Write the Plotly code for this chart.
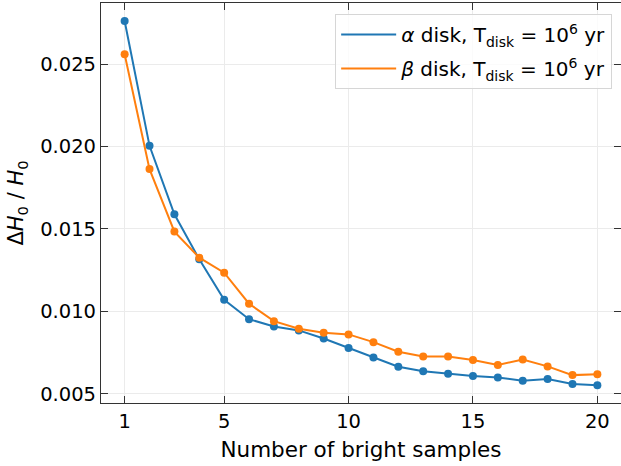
import plotly.graph_objects as go

n_samples = list(range(1, 21))
alpha_disk = [0.02761, 0.02004, 0.01589, 0.01316, 0.01071, 0.00953, 0.00909, 0.00885, 0.00836, 0.00778,
              0.00721, 0.00665, 0.00638, 0.00622, 0.00608, 0.00600, 0.00580, 0.00590, 0.00560, 0.00552]
beta_disk = [0.02559, 0.01863, 0.01484, 0.01326, 0.01235, 0.01047, 0.00941, 0.00895, 0.00871, 0.00861,
             0.00814, 0.00756, 0.00727, 0.00727, 0.00705, 0.00675, 0.00709, 0.00667, 0.00614, 0.00620]
x_ticks = [1, 5, 10, 15, 20]
y_ticks = [0.005, 0.010, 0.015, 0.020, 0.025]
names = ["<i>α</i> disk, T<sub>disk</sub> = 10<sup>6</sup> yr",
         "<i>β</i> disk, T<sub>disk</sub> = 10<sup>6</sup> yr"]
colors = ["#1f77b4", "#ff7f0e"]

fig = go.Figure()
for i, (ys, nm, c) in enumerate(zip([alpha_disk, beta_disk], names, colors)):
    fig.add_trace(go.Scatter(x=n_samples, y=ys, mode="lines+markers", name=nm, showlegend=False,
                             line=dict(color=c, width=2), marker=dict(color=c, size=8)))
    # legend entry: line only, as in the reference
    fig.add_trace(go.Scatter(x=[None], y=[None], mode="lines", name=nm, legendgroup=f"g{i}",
                             line=dict(color=c, width=2)))

font = "DejaVu Sans"
axis_common = dict(showgrid=True, gridcolor="#ebebeb", gridwidth=1, ticks="inside", ticklen=7,
                   tickwidth=1, tickcolor="#333", showline=True, linecolor="#333", linewidth=1.2,
                   mirror="allticks", zeroline=False, tickfont=dict(size=19.5, color="black", family=font))
fig.update_xaxes(range=[0.05, 20.95], tickvals=x_ticks,
                 title=dict(text="Number of bright samples", font=dict(size=21.5, family=font, color="black"), standoff=10),
                 **axis_common)
fig.update_yaxes(range=[0.00445, 0.0287], tickvals=y_ticks, tickformat=".3f",
                 title=dict(text="Δ<i>H</i><sub>0</sub> / <i>H</i><sub>0</sub>", font=dict(size=21, family=font, color="black"), standoff=10),
                 **axis_common)
fig.update_layout(width=621, height=466, margin=dict(l=101, r=0, t=3, b=63),
                  plot_bgcolor="white", paper_bgcolor="white",
                  font=dict(family=font, color="black"),
                  legend=dict(x=0.983, y=0.9725, xanchor="right", yanchor="top",
                              bgcolor="rgba(255,255,255,0.8)", bordercolor="#d6d6d6", borderwidth=1,
                              traceorder="grouped", tracegroupgap=5,
                              font=dict(size=20, family=font, color="black"), itemwidth=55))
fig.write_html("out.html")
